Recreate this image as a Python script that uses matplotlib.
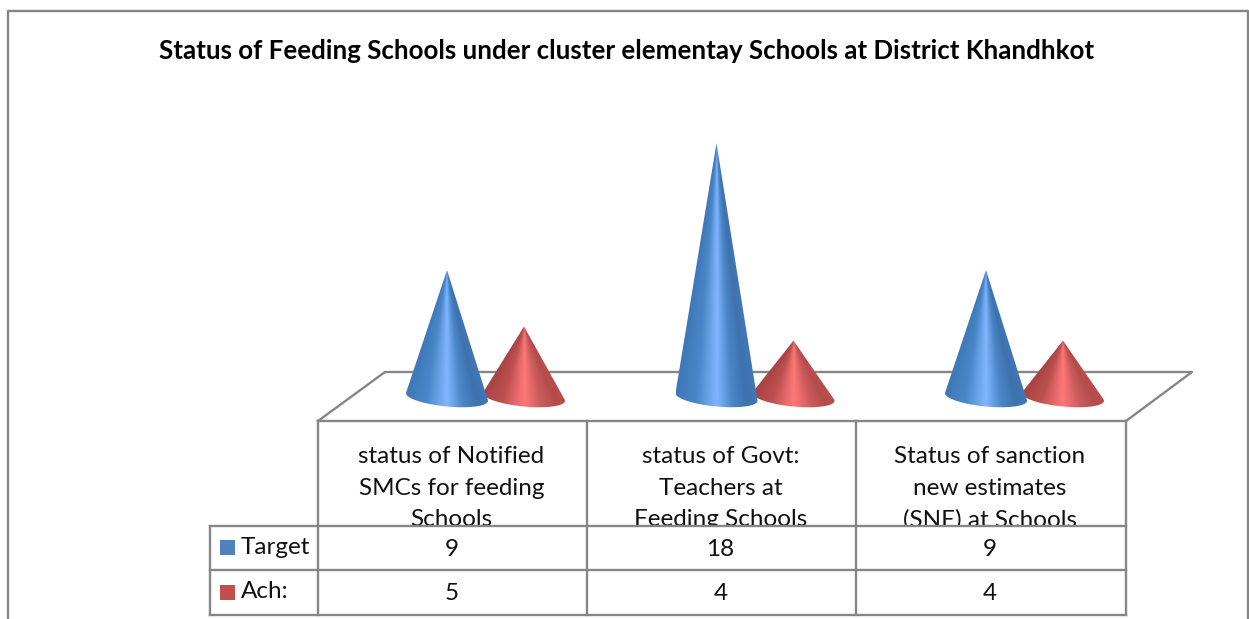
import numpy as np
import matplotlib
matplotlib.use("Agg")
import matplotlib.pyplot as plt
from matplotlib.patches import PathPatch, Rectangle
from matplotlib.path import Path

title = "Status of Feeding Schools under cluster elementay Schools at District Khandhkot"
categories = [
    "status of Notified\nSMCs for feeding\nSchools",
    "status of Govt:\nTeachers at\nFeeding Schools",
    "Status of sanction\nnew estimates\n(SNE) at Schools",
]
series_names = ["Target", "Ach:"]
target = [9, 18, 9]
ach = [5, 4, 4]

W, H = 1249, 619
GREY = "#868686"
LW = 1.7
FONT = "Lato"

blue_stops = ["#3f78b8", "#4a86c8", "#80b6ff", "#4c86c8", "#3d72ae", "#4278b6"]
red_stops = ["#a84444", "#bc5050", "#ff7878", "#cc5c5c", "#b44c4c", "#b85050"]
stop_pos = [0.0, 0.25, 0.5, 0.68, 0.85, 1.0]

plt.rcParams["font.family"] = [FONT, "DejaVu Sans"]
fig = plt.figure(figsize=(W / 100, H / 100), dpi=100, facecolor="white")

# furniture, in pixels
bg = fig.add_axes([0, 0, 1, 1])
bg.set_xlim(0, W)
bg.set_ylim(H, 0)
bg.axis("off")


def line(xs, ys, lw=LW):
    bg.plot(xs, ys, color=GREY, lw=lw, solid_capstyle="projecting", zorder=5)


line([8, 8, 1248, 1248], [H, 11, 11, H])
line([318, 385, 1192, 1126], [421, 372, 372, 421])

bg.text(627, 51, title, ha="center", va="center", fontsize=18.6, fontweight="bold",
        color="black")

col_x = [318, 587, 856, 1126]
for i, cat in enumerate(categories):
    bg.text((col_x[i] + col_x[i + 1]) / 2 - 1, 446, cat, ha="center", va="top",
            fontsize=17.5, linespacing=1.62, color="#111111", zorder=2)

# rows of the table hide what runs over from the labels above
bg.add_patch(Rectangle((210, 526), 916, 89, fc="white", ec="none", zorder=3))

row_y = [526, 570, 615]
for x in col_x:
    line([x, x], [421, 615])
line([318, 1126], [421, 421])
line([210, 210], [526, 615])
for y in row_y:
    line([210, 1126], [y, y])

swatches = ["#4f81bd", "#c0504d"]
for r, (name, vals) in enumerate(zip(series_names, [target, ach])):
    yc = (row_y[r] + row_y[r + 1]) / 2
    bg.add_patch(Rectangle((220, yc - 8), 15, 15, fc=swatches[r], ec="none", zorder=4))
    bg.text(241, yc - 1, name, ha="left", va="center", fontsize=17.5, color="#111111", zorder=4)
    for i, v in enumerate(vals):
        bg.text((col_x[i] + col_x[i + 1]) / 2 - 1, yc + 1, str(v), ha="center", va="center",
                fontsize=17.5, color="#111111", zorder=4)

# cones, in category / value units
ax = fig.add_axes([0, 0, 1, 1])
ax.patch.set_alpha(0)
ax.axis("off")

px_per_cat = 269.5
px_per_val = 14.1
x0_px = 485.5
y0_px = 397.0


def cone(cx, value, stops, half_w=41 / px_per_cat, half_h=9.5 / px_per_val, tilt=0.4):
    # sides meet the rim where they are tangent to it
    ext = np.arcsin(half_h / value)
    th = np.linspace(np.pi - ext, 2 * np.pi + ext, 70)
    ex = cx + half_w * np.cos(th)
    ey = half_h * np.sin(th) - tilt * half_h * np.cos(th)
    vx = np.r_[cx, ex, cx]
    vy = np.r_[value, ey, value]
    codes = [Path.MOVETO] + [Path.LINETO] * (len(ex) + 1)
    codes[-1] = Path.CLOSEPOLY
    patch = PathPatch(Path(np.c_[vx, vy], codes), fc="none", ec="none")
    ax.add_patch(patch)

    # shading runs from the rim up to the apex
    low = -half_h * 1.6
    gx = np.linspace(cx - half_w, cx + half_w, 200)
    gy = np.linspace(low, value, 300)
    xx, yy = np.meshgrid(gx, gy)
    frac = np.clip((value - yy) / value, 0.02, None)
    u = np.clip(0.5 + (xx - cx) / (2 * half_w * frac), 0, 1)
    rgb = np.array([matplotlib.colors.to_rgb(c) for c in stops])
    img = np.dstack([np.interp(u, stop_pos, rgb[:, k]) for k in range(3)])
    im = ax.imshow(img, extent=[gx[0], gx[-1], gy[0], gy[-1]], origin="lower",
                   aspect="auto", interpolation="bilinear", zorder=3)
    im.set_clip_path(patch)


off_t = (447 - x0_px) / px_per_cat
off_a = (524 - x0_px) / px_per_cat
for i in range(len(categories)):
    cone(i + off_a, ach[i], red_stops)
    cone(i + off_t, target[i], blue_stops)

ax.set_xlim((0 - x0_px) / px_per_cat, (W - x0_px) / px_per_cat)
ax.set_ylim((y0_px - H) / px_per_val, y0_px / px_per_val)

fig.savefig("out.png", dpi=100, facecolor="white")
